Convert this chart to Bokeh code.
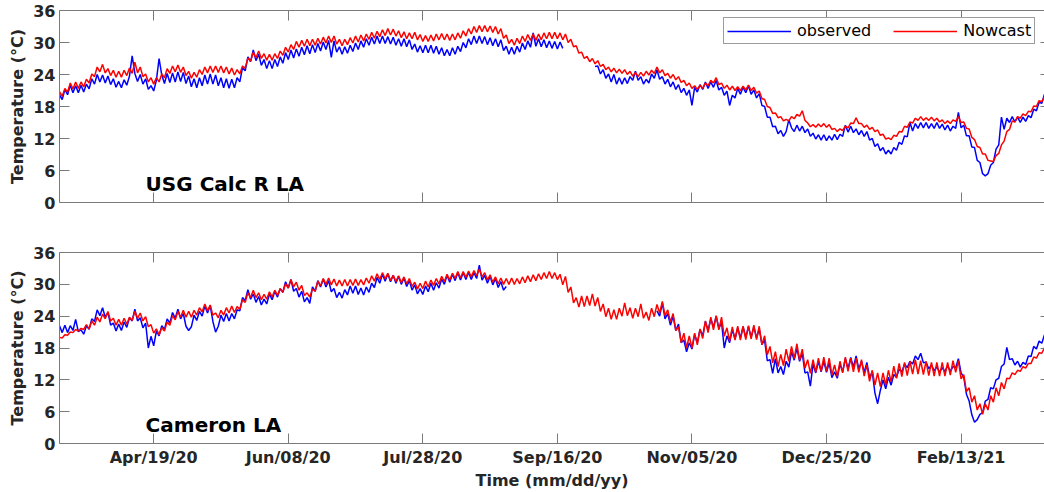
import numpy as np
import pandas as pd
from bokeh.plotting import figure
from bokeh.layouts import column
from bokeh.models import (Range1d, FixedTicker, DatetimeTickFormatter, DatetimeAxis,
                          LinearAxis, Legend, LegendItem, Label, ColumnDataSource,
                          CustomLabelingPolicy)
from bokeh.embed import file_html
from bokeh.resources import INLINE

nan = float("nan")

# ---------------- data (daily values) ----------------
start_date = "2020-03-15"
x_start = "2020-03-15"
x_end = "2021-03-16"
y_ticks = [0, 6, 12, 18, 24, 30, 36]
tick_dates = ["2020-04-19", "2020-06-08", "2020-07-28", "2020-09-16",
              "2020-11-05", "2020-12-25", "2021-02-13"]
station_names = ["USG Calc R LA", "Cameron LA"]
series_names = ["observed", "Nowcast"]

obs_usg = [
    20.2, 19.3, 21.2, 20.2, 22.0, 20.6, 21.9, 20.6, 22.0, 20.7,
    22.2, 21.3, 23.2, 22.2, 24.0, 22.6, 23.9, 22.4, 23.7, 22.1,
    23.2, 21.6, 22.7, 21.5, 23.0, 22.0, 23.7, 27.5, 24.2, 22.7,
    24.0, 22.2, 23.2, 21.2, 21.9, 20.9, 22.9, 27.0, 23.9, 22.3,
    24.2, 22.5, 24.3, 22.6, 24.5, 22.7, 24.4, 22.3, 23.7, 21.7,
    23.2, 21.5, 23.4, 21.9, 23.9, 22.2, 24.1, 22.2, 23.9, 21.9,
    23.4, 21.5, 23.2, 21.4, 23.1, 21.5, 23.4, 22.6, 25.3, 24.7,
    27.3, 26.4, 28.6, 26.6, 27.8, 25.7, 26.8, 25.1, 26.6, 25.1,
    26.8, 25.5, 27.3, 26.1, 28.1, 26.8, 28.6, 27.1, 28.8, 27.4,
    29.1, 27.7, 29.4, 27.9, 29.6, 28.1, 29.8, 28.4, 30.1, 28.7,
    30.4, 27.2, 30.3, 28.2, 29.2, 27.8, 29.2, 28.0, 29.5, 28.3,
    29.9, 28.7, 30.3, 29.1, 30.7, 29.5, 31.0, 29.7, 31.2, 29.8,
    31.2, 29.8, 31.1, 29.7, 31.0, 29.5, 30.7, 29.3, 30.7, 29.2,
    30.5, 28.7, 29.7, 28.2, 29.4, 28.1, 29.5, 28.1, 29.5, 28.0,
    29.3, 27.8, 29.0, 27.5, 28.7, 27.5, 29.0, 27.8, 29.3, 28.3,
    30.0, 29.0, 30.7, 29.6, 31.2, 29.8, 31.2, 29.8, 31.1, 29.6,
    30.9, 29.4, 30.7, 29.2, 30.5, 28.5, 29.3, 27.8, 29.1, 27.8,
    29.3, 28.2, 29.9, 28.7, 30.3, 29.1, 31.8, 29.3, 30.7, 29.2,
    30.5, 29.0, 30.3, 28.9, 30.2, 28.8, 30.1, 28.9, nan, nan,
    nan, nan, nan, nan, nan, nan, nan, nan, nan, 25.5,
    25.6, 24.1, 24.9, 23.3, 24.1, 22.6, 24.0, 22.2, 23.4, 22.2,
    23.4, 22.3, 23.6, 22.9, 24.6, 22.9, 23.6, 22.2, 23.1, 22.4,
    24.1, 23.3, 24.9, 23.1, 23.6, 22.2, 23.1, 21.7, 22.6, 21.2,
    22.1, 20.6, 21.4, 20.1, 21.1, 18.2, 21.6, 20.7, 22.1, 21.2,
    22.6, 21.4, 22.6, 21.6, 22.9, 21.1, 21.6, 20.1, 20.9, 18.2,
    20.1, 19.6, 21.4, 20.3, 21.6, 20.6, 21.9, 20.3, 21.1, 19.6,
    20.4, 18.2, 18.0, 16.0, 16.0, 14.2, 14.3, 12.9, 13.5, 12.4,
    13.3, 15.5, 14.0, 13.3, 14.5, 13.4, 14.3, 13.1, 13.8, 12.4,
    13.0, 11.9, 12.7, 11.7, 12.7, 11.6, 12.5, 11.7, 12.8, 11.8,
    12.8, 12.4, 14.5, 13.2, 14.3, 13.1, 13.8, 12.7, 13.5, 12.4,
    13.3, 11.7, 12.0, 10.5, 11.0, 9.7, 10.3, 9.1, 9.8, 9.1,
    10.3, 9.8, 11.3, 10.9, 12.5, 12.3, 15.0, 13.4, 14.8, 13.9,
    15.0, 14.0, 15.0, 13.9, 14.8, 13.9, 15.0, 13.9, 14.7, 13.6,
    14.5, 13.4, 14.3, 13.9, 16.9, 14.0, 14.5, 12.5, 12.5, 10.4,
    10.3, 7.9, 7.5, 5.4, 5.0, 5.4, 7.0, 7.5, 10.0, 10.8,
    16.0, 13.7, 15.8, 15.0, 16.1, 15.1, 16.0, 15.0, 16.0, 15.2,
    16.3, 15.9, 17.5, 17.2, 18.8, 18.6, 20.3,
]

now_usg = [
    20.8, 19.9, 21.4, 20.7, 22.4, 21.3, 22.6, 21.4, 22.6, 21.7,
    23.1, 22.4, 24.1, 23.6, 25.4, 24.5, 25.9, 24.3, 25.1, 23.8,
    24.8, 23.5, 24.6, 23.5, 24.8, 23.8, 25.2, 24.2, 26.3, 24.3,
    25.4, 23.6, 24.1, 22.6, 23.4, 22.2, 23.4, 22.6, 24.1, 23.4,
    25.1, 24.2, 25.6, 24.5, 25.8, 24.4, 25.4, 23.8, 24.6, 23.3,
    24.4, 23.5, 24.9, 24.0, 25.4, 24.3, 25.6, 24.4, 25.6, 24.4,
    25.6, 24.3, 25.4, 24.1, 25.2, 23.9, 24.9, 24.1, 25.6, 25.2,
    27.1, 26.5, 28.2, 27.1, 28.4, 27.0, 27.9, 26.7, 27.8, 26.7,
    27.9, 27.0, 28.4, 27.6, 29.1, 28.2, 29.6, 28.7, 30.2, 29.1,
    30.4, 29.3, 30.6, 29.4, 30.6, 29.5, 30.8, 29.7, 31.0, 29.9,
    31.2, 30.0, 31.2, 29.7, 30.6, 29.4, 30.6, 29.6, 30.9, 29.9,
    31.2, 30.1, 31.4, 30.3, 31.6, 30.6, 31.9, 30.8, 32.1, 31.1,
    32.4, 31.3, 32.6, 31.4, 32.5, 31.2, 32.2, 30.9, 32.0, 30.7,
    31.8, 30.7, 31.9, 30.5, 31.5, 30.2, 31.3, 30.2, 31.4, 30.3,
    31.6, 30.5, 31.7, 30.5, 31.6, 30.4, 31.6, 30.5, 31.8, 30.8,
    32.2, 31.2, 32.6, 31.6, 33.0, 31.9, 33.2, 32.0, 33.2, 32.0,
    33.1, 31.9, 33.0, 31.6, 32.6, 30.8, 31.4, 29.8, 30.6, 29.5,
    30.8, 29.8, 31.2, 30.2, 31.5, 30.4, 31.6, 30.4, 31.6, 30.5,
    31.8, 30.7, 31.9, 30.7, 31.9, 30.7, 31.8, 30.5, 31.6, 30.0,
    30.6, 29.2, 29.4, 28.0, 28.2, 27.0, 27.4, 26.4, 27.0, 26.0,
    26.6, 25.5, 25.9, 24.9, 25.4, 24.5, 25.2, 24.3, 25.0, 24.2,
    24.9, 24.0, 24.6, 23.7, 24.4, 23.6, 24.4, 23.7, 24.6, 23.9,
    24.8, 24.2, 25.4, 24.3, 24.9, 23.8, 24.2, 23.3, 24.0, 23.0,
    23.6, 22.5, 22.9, 21.9, 22.4, 21.4, 21.9, 21.2, 22.0, 21.4,
    22.4, 21.9, 22.9, 22.4, 23.4, 22.1, 22.4, 21.4, 22.0, 21.1,
    21.8, 21.0, 21.7, 21.0, 21.8, 21.1, 22.0, 21.0, 21.6, 20.5,
    20.9, 19.5, 19.3, 18.0, 17.8, 16.7, 16.8, 15.9, 16.1, 15.3,
    15.6, 15.3, 16.1, 15.7, 16.5, 16.2, 17.2, 15.4, 14.9, 14.2,
    14.6, 14.1, 14.7, 14.2, 14.8, 14.1, 14.6, 13.7, 13.9, 13.3,
    13.8, 13.5, 14.3, 14.0, 14.9, 14.8, 15.9, 14.8, 14.8, 14.1,
    14.5, 13.7, 14.1, 13.3, 13.6, 12.6, 12.8, 11.9, 12.1, 11.8,
    12.6, 12.4, 13.3, 13.2, 14.3, 14.1, 15.1, 14.9, 15.8, 15.4,
    16.1, 15.4, 15.9, 15.4, 16.0, 15.3, 15.8, 15.1, 15.5, 14.8,
    15.3, 14.8, 15.5, 15.2, 16.1, 15.0, 15.1, 13.9, 13.8, 12.2,
    11.8, 10.5, 10.3, 9.1, 9.1, 7.9, 7.8, 7.7, 8.8, 9.2,
    10.8, 11.5, 13.3, 13.7, 15.3, 15.1, 16.1, 15.8, 16.6, 16.3,
    17.1, 17.0, 18.1, 18.0, 19.1, 18.9, 19.8,
]

obs_cam = [
    22.2, 20.9, 22.3, 20.9, 22.2, 21.3, 23.4, 21.1, 21.4, 20.6,
    22.2, 21.5, 23.5, 23.0, 25.2, 24.1, 25.6, 23.8, 24.7, 22.3,
    22.7, 21.2, 22.5, 21.3, 22.9, 21.9, 23.7, 23.1, 25.3, 23.1,
    23.7, 21.8, 22.7, 18.0, 20.2, 18.4, 21.2, 20.3, 22.2, 21.5,
    23.5, 22.7, 24.7, 23.6, 25.3, 23.5, 24.5, 22.1, 21.3, 22.0,
    24.2, 23.2, 24.9, 24.0, 25.9, 24.6, 26.0, 23.0, 21.0, 22.1,
    24.2, 23.0, 24.5, 23.1, 24.5, 23.5, 25.2, 25.0, 27.5, 26.9,
    29.0, 27.2, 28.2, 26.6, 27.7, 26.1, 27.2, 26.3, 28.2, 27.1,
    28.7, 27.6, 29.2, 28.5, 30.5, 29.3, 30.9, 28.7, 29.2, 27.6,
    28.7, 26.7, 27.5, 26.4, 29.5, 28.7, 30.7, 29.5, 31.0, 29.5,
    30.7, 28.6, 29.2, 27.5, 28.5, 27.4, 29.0, 28.0, 29.7, 28.3,
    29.7, 28.1, 29.3, 28.0, 29.5, 28.5, 30.2, 29.4, 31.3, 30.2,
    31.9, 30.6, 32.0, 30.5, 31.7, 30.2, 31.5, 30.0, 31.2, 29.6,
    30.7, 28.9, 29.9, 28.2, 29.2, 28.1, 29.7, 28.6, 30.2, 28.9,
    30.3, 29.3, 31.0, 30.0, 31.7, 30.4, 31.9, 30.7, 32.2, 30.8,
    32.2, 30.9, 32.3, 30.9, 32.2, 31.1, 33.6, 30.8, 31.7, 30.2,
    31.5, 29.9, 31.1, 29.4, 30.5, 28.9, 29.6, nan, nan, nan,
    nan, nan, nan, nan, nan, nan, nan, nan, nan, nan,
    nan, nan, nan, nan, nan, nan, nan, nan, nan, nan,
    nan, nan, nan, nan, nan, nan, nan, nan, nan, nan,
    nan, nan, nan, nan, nan, nan, nan, nan, nan, nan,
    nan, nan, nan, nan, nan, nan, nan, nan, nan, nan,
    nan, nan, 25.0, 24.0, 26.5, 23.5, 24.5, 22.3, 24.0, 21.3,
    22.5, 19.0, 19.5, 17.3, 19.0, 17.8, 20.5, 19.0, 21.5, 20.3,
    23.0, 21.3, 23.5, 21.9, 24.0, 21.7, 22.8, 18.0, 20.3, 19.0,
    21.5, 19.7, 21.8, 19.9, 22.0, 20.0, 22.0, 20.0, 22.0, 19.9,
    21.6, 18.7, 19.5, 15.6, 15.8, 13.2, 16.0, 13.3, 14.5, 13.0,
    15.5, 14.4, 17.3, 15.7, 18.0, 15.5, 17.0, 13.3, 13.5, 10.8,
    15.0, 13.3, 15.5, 13.5, 15.5, 13.4, 15.2, 12.4, 13.5, 12.3,
    15.0, 13.5, 16.0, 14.1, 16.2, 14.4, 16.5, 14.0, 15.5, 13.4,
    15.3, 12.4, 13.5, 9.5, 7.5, 10.0, 12.0, 10.3, 12.5, 11.0,
    13.0, 12.5, 14.0, 13.5, 15.0, 14.3, 15.5, 15.0, 16.5, 15.8,
    17.0, 15.2, 15.3, 14.1, 14.8, 13.7, 14.5, 13.4, 14.3, 13.5,
    14.7, 13.6, 14.5, 14.3, 16.0, 13.3, 12.5, 9.3, 8.0, 5.4,
    4.0, 4.5, 5.5, 5.8, 8.0, 8.3, 10.5, 10.3, 12.0, 12.3,
    14.5, 15.0, 18.1, 15.8, 16.0, 14.8, 15.5, 14.4, 15.3, 14.9,
    16.5, 16.4, 18.3, 17.8, 19.3, 18.9, 20.5,
]

now_cam = [
    20.0, 19.9, 20.5, 20.4, 21.0, 20.9, 21.5, 21.2, 21.7, 21.5,
    22.4, 21.6, 23.1, 22.3, 23.8, 22.9, 24.4, 23.5, 24.9, 23.1,
    23.6, 22.3, 23.4, 22.3, 23.6, 22.5, 23.8, 23.2, 24.9, 23.6,
    24.6, 23.1, 23.9, 22.0, 22.4, 20.8, 21.6, 20.5, 21.8, 21.2,
    22.9, 22.3, 24.1, 23.3, 24.9, 23.8, 25.1, 23.8, 24.9, 23.8,
    25.1, 24.2, 25.6, 24.8, 26.3, 25.0, 26.1, 24.2, 24.6, 23.7,
    25.1, 24.2, 25.6, 24.6, 25.9, 24.7, 25.8, 25.3, 27.1, 26.6,
    28.4, 27.5, 28.9, 27.5, 28.4, 27.1, 28.1, 27.2, 28.6, 27.6,
    28.9, 27.9, 29.2, 28.5, 30.1, 29.3, 30.9, 29.5, 30.4, 28.9,
    29.8, 27.9, 28.4, 27.6, 29.1, 28.7, 30.6, 29.7, 31.1, 30.0,
    31.2, 29.9, 31.0, 29.7, 30.8, 29.7, 30.9, 29.7, 30.9, 29.8,
    31.0, 29.8, 30.9, 29.9, 31.2, 30.2, 31.6, 30.6, 32.0, 30.9,
    32.2, 31.0, 32.1, 30.7, 31.7, 30.5, 31.6, 30.3, 31.4, 30.1,
    31.1, 29.6, 30.4, 29.1, 30.2, 29.2, 30.6, 29.5, 30.8, 29.8,
    31.1, 30.1, 31.5, 30.5, 31.9, 30.8, 32.1, 31.1, 32.4, 31.2,
    32.4, 31.3, 32.5, 31.4, 32.6, 31.6, 32.9, 31.4, 32.2, 30.8,
    31.8, 30.4, 31.4, 30.1, 31.2, 30.0, 31.1, 30.0, 31.2, 30.0,
    31.1, 30.1, 31.4, 30.3, 31.6, 30.5, 31.8, 30.7, 32.0, 30.9,
    32.2, 31.1, 32.4, 31.1, 32.2, 30.9, 31.9, 29.9, 31.5, 28.5,
    29.5, 26.5, 27.5, 25.7, 27.8, 25.8, 27.8, 26.0, 28.2, 25.9,
    27.5, 24.9, 26.3, 23.9, 25.5, 23.4, 25.2, 23.4, 25.5, 24.0,
    26.5, 24.1, 25.6, 23.6, 25.5, 23.9, 26.3, 23.6, 24.8, 23.2,
    25.5, 23.9, 26.2, 24.6, 26.8, 24.1, 25.2, 22.9, 24.5, 21.3,
    22.0, 19.0, 20.8, 18.0, 20.3, 18.0, 20.8, 18.6, 21.6, 19.8,
    23.1, 20.9, 23.8, 21.4, 24.1, 21.4, 23.8, 20.2, 21.8, 19.3,
    22.0, 19.5, 22.1, 19.5, 22.1, 19.6, 22.2, 19.7, 22.3, 19.6,
    22.1, 18.6, 20.3, 16.7, 18.3, 15.2, 17.3, 14.5, 16.8, 14.7,
    17.8, 15.5, 18.3, 16.0, 18.8, 15.7, 17.8, 14.2, 15.8, 13.2,
    15.8, 13.4, 16.1, 13.6, 16.3, 13.6, 16.1, 12.9, 14.8, 12.6,
    15.5, 13.3, 16.3, 13.6, 16.1, 13.5, 16.1, 13.4, 15.8, 12.7,
    14.8, 11.7, 13.8, 11.0, 13.3, 10.7, 13.3, 11.0, 13.8, 11.6,
    14.6, 12.3, 15.1, 12.6, 15.3, 12.8, 15.5, 13.1, 15.8, 13.1,
    15.6, 13.0, 15.5, 12.8, 15.3, 12.7, 15.3, 12.7, 15.3, 12.7,
    15.3, 12.9, 15.6, 13.4, 15.6, 12.2, 13.0, 9.8, 10.5, 7.8,
    9.0, 6.3, 7.5, 5.5, 7.5, 6.3, 9.0, 7.8, 10.5, 9.0,
    11.5, 10.3, 12.3, 12.2, 13.3, 13.0, 13.8, 13.6, 14.5, 14.2,
    15.1, 15.1, 16.3, 16.1, 17.1, 17.0, 18.1,
]

# ---------------- styling ----------------
BLUE = "#0000ff"
RED = "#ff0000"
AXIS_COLOR = "#7a7a7a"
TEXT_COLOR = "#262626"
FONT = "DejaVu Sans"
WIDTH = 1044
NAME_Y = 3.4

HIDE_LABELS_CODE = """
try {
  if (typeof indices.clear === 'function') { indices.clear() }
  else { for (const i of Array.from(indices)) indices.unset(i) }
} catch (e) {}
return indices
"""


def ms(s):
    return pd.Timestamp(s).value / 1e6


def source_for(vals):
    dates = pd.date_range(start_date, periods=len(vals), freq="D")
    return ColumnDataSource(dict(x=dates, y=np.array(vals, dtype=float)))


date_fmt = "%b/%d/%y"


def make_formatter():
    return DatetimeTickFormatter(
        microseconds=date_fmt, milliseconds=date_fmt, seconds=date_fmt,
        minsec=date_fmt, minutes=date_fmt, hourmin=date_fmt, hours=date_fmt,
        days=date_fmt, months=date_fmt, years=date_fmt, context=None)


def style_axis(ax, show_labels, tick_len=10, line=True):
    ax.axis_line_color = AXIS_COLOR if line else None
    ax.axis_line_width = 1
    ax.major_tick_line_color = AXIS_COLOR
    ax.major_tick_line_width = 1
    ax.major_tick_in = tick_len
    ax.major_tick_out = 0
    ax.minor_tick_line_color = None
    ax.major_label_text_font = FONT
    ax.major_label_text_font_style = "bold"
    ax.major_label_text_color = TEXT_COLOR
    if show_labels:
        ax.major_label_text_font_size = "16px"
        ax.major_label_standoff = 4
    else:
        ax.major_label_text_font_size = "0px"
        ax.major_label_standoff = 0
        ax.major_label_policy = CustomLabelingPolicy(code=HIDE_LABELS_CODE)


def make_panel(obs, now, name, height, border_top, border_bottom, bottom_labels, with_legend):
    x_ticks = [ms(d) for d in tick_dates]
    p = figure(width=WIDTH, height=height, x_axis_type="datetime",
               output_backend="svg", toolbar_location=None,
               x_range=Range1d(ms(x_start), ms(x_end)), y_range=Range1d(0, 36),
               min_border_left=59, min_border_right=0,
               min_border_top=border_top, min_border_bottom=border_bottom)
    p.background_fill_color = "white"
    p.border_fill_color = "white"
    p.outline_line_color = None
    p.xgrid.visible = False
    p.ygrid.visible = False

    # bottom x axis
    xa = p.xaxis[0]
    xa.ticker = FixedTicker(ticks=x_ticks)
    xa.formatter = make_formatter()
    style_axis(xa, bottom_labels)
    if bottom_labels:
        xa.axis_label = "Time (mm/dd/yy)"
        xa.axis_label_text_font = FONT
        xa.axis_label_text_font_style = "bold"
        xa.axis_label_text_font_size = "16px"
        xa.axis_label_text_color = TEXT_COLOR
        xa.axis_label_standoff = 1

    # left y axis
    ya = p.yaxis[0]
    ya.ticker = FixedTicker(ticks=y_ticks)
    style_axis(ya, True)
    ya.axis_label = "Temperature (°C)"
    ya.axis_label_text_font = FONT
    ya.axis_label_text_font_style = "bold"
    ya.axis_label_text_font_size = "16px"
    ya.axis_label_text_color = TEXT_COLOR
    ya.axis_label_standoff = 3
    ya.major_label_standoff = 4

    # box: top axis and right-side ticks (inward)
    top = DatetimeAxis(ticker=FixedTicker(ticks=x_ticks), formatter=make_formatter())
    style_axis(top, False)
    p.add_layout(top, "above")
    right = LinearAxis(ticker=FixedTicker(ticks=y_ticks))
    style_axis(right, False, tick_len=4, line=False)
    p.add_layout(right, "right")

    r_obs = p.line(x="x", y="y", source=source_for(obs), line_color=BLUE, line_width=1.5)
    r_now = p.line(x="x", y="y", source=source_for(now), line_color=RED, line_width=1.5)

    p.add_layout(Label(x=ms("2020-04-16"), y=NAME_Y, text=name, text_font=FONT,
                       text_font_size="20px", text_font_style="bold",
                       text_color="black", text_baseline="alphabetic"))

    if with_legend:
        legend = Legend(
            items=[LegendItem(label=series_names[0], renderers=[r_obs]),
                   LegendItem(label=series_names[1], renderers=[r_now])],
            orientation="horizontal", location=(664, 158),
            padding=3, spacing=22, margin=0,
            glyph_width=64, glyph_height=14, label_height=14, label_standoff=6,
            label_text_font=FONT, label_text_font_size="16px",
            label_text_color="black",
            border_line_color="#3a3a3a", border_line_width=1,
            background_fill_color="white", background_fill_alpha=1.0)
        p.add_layout(legend)
    return p


p1 = make_panel(obs_usg, now_usg, station_names[0], height=227, border_top=10,
                border_bottom=25, bottom_labels=False, with_legend=True)
p2 = make_panel(obs_cam, now_cam, station_names[1], height=265, border_top=25,
                border_bottom=49, bottom_labels=True, with_legend=False)

layout = column(p1, p2)
open("out.html", "w").write(file_html(layout, INLINE))
